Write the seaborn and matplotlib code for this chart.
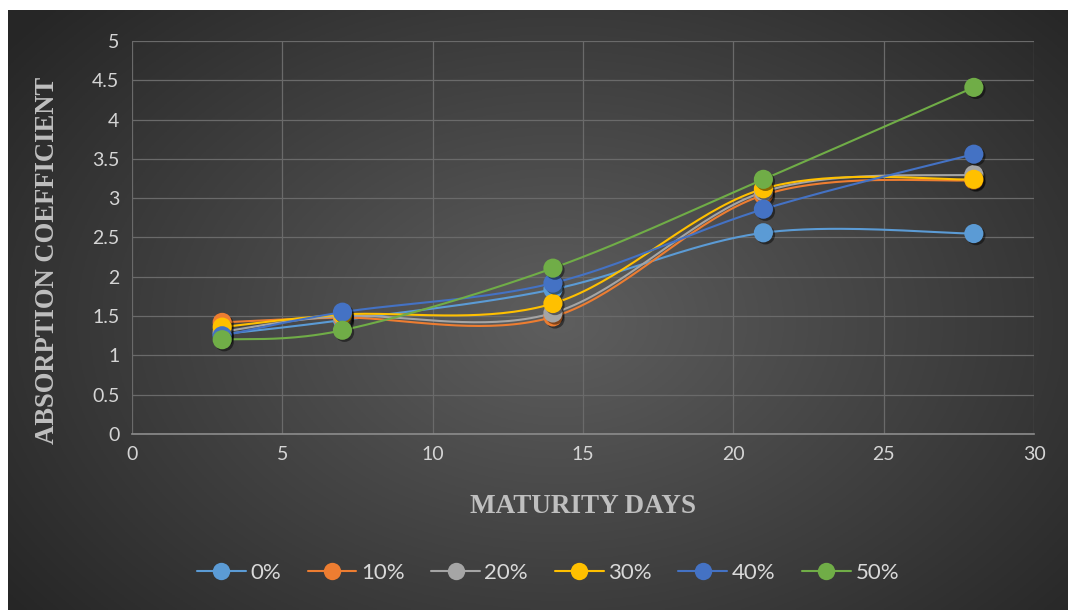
import numpy as np
import pandas as pd
import matplotlib
matplotlib.use("Agg")
import matplotlib.pyplot as plt
import matplotlib.patheffects as pe
from matplotlib.lines import Line2D
from matplotlib.ticker import FuncFormatter, MultipleLocator
import seaborn as sns

# data
days = [3, 7, 14, 21, 28]
series_names = ["0%", "10%", "20%", "30%", "40%", "50%"]
vals_0 = [1.27, 1.45, 1.84, 2.56, 2.55]
vals_10 = [1.42, 1.48, 1.49, 3.04, 3.23]
vals_20 = [1.30, 1.50, 1.54, 3.08, 3.30]
vals_30 = [1.36, 1.52, 1.66, 3.12, 3.24]
vals_40 = [1.25, 1.55, 1.92, 2.86, 3.56]
vals_50 = [1.20, 1.32, 2.11, 3.24, 4.41]
colors = ["#5B9BD5", "#ED7D31", "#A5A5A5", "#FFC000", "#4472C4", "#70AD47"]

all_vals = [vals_0, vals_10, vals_20, vals_30, vals_40, vals_50]


def smooth_curve(xs, ys, n=40):
    # Bezier smoothing similar to the spreadsheet "smoothed line" option
    pts = np.column_stack([xs, ys]).astype(float)
    P = np.vstack([pts[0], pts, pts[-1]])
    out = []
    t = np.linspace(0, 1, n)[:, None]
    for i in range(len(pts) - 1):
        p0, p1, p2, p3 = P[i], P[i + 1], P[i + 2], P[i + 3]
        b1 = p1 + (p2 - p0) / 6
        b2 = p2 - (p3 - p1) / 6
        seg = (1 - t) ** 3 * p1 + 3 * (1 - t) ** 2 * t * b1 + 3 * (1 - t) * t ** 2 * b2 + t ** 3 * p2
        out.append(seg if i == 0 else seg[1:])
    return np.vstack(out)


rows_curve = []
rows_pts = []
for name, v in zip(series_names, all_vals):
    c = smooth_curve(days, v)
    for k, (x, y) in enumerate(c):
        rows_curve.append({"series": name, "x": x, "y": y, "k": k})
    for x, y in zip(days, v):
        rows_pts.append({"series": name, "x": x, "y": y})
df_curve = pd.DataFrame(rows_curve)
df_pts = pd.DataFrame(rows_pts)

sns.set_theme(style="dark")
plt.rcParams['font.family'] = ['Lato', 'DejaVu Sans']

W, H = 1068, 610
fig = plt.figure(figsize=(W / 100, H / 100), dpi=100, facecolor="white")

# dark radial gradient background
bg = fig.add_axes([8 / W, 0, 1 - 8 / W, 1 - 10 / H])
gx, gy = np.meshgrid(np.linspace(0, 1, 400), np.linspace(0, 1, 240))
r = np.sqrt(((gx - 0.52) / 0.62) ** 2 + ((gy - 0.52) / 0.75) ** 2)
shade = np.clip(0.37 - 0.21 * r, 0.15, 0.37)
bg.imshow(np.dstack([shade, shade, shade]), aspect="auto", extent=[0, 1, 0, 1], origin="upper")
bg.axis("off")

ax = fig.add_axes([132 / W, 1 - 434 / H, (1034 - 132) / W, (434 - 41) / H])
ax.patch.set_alpha(0)

for i, name in enumerate(series_names):
    sub = df_curve[df_curve["series"] == name]
    sns.lineplot(data=sub, x="x", y="y", ax=ax, color=colors[i], lw=1.5,
                 sort=False, estimator=None, zorder=3 + i * 0.1)
for i, name in enumerate(series_names):
    sub = df_pts[df_pts["series"] == name]
    sc = sns.scatterplot(data=sub, x="x", y="y", ax=ax, color=colors[i], s=190,
                         edgecolor="none", zorder=4 + i * 0.1)
    sc.collections[-1].set_path_effects([
        pe.SimplePatchShadow(offset=(1.5, -1.5), shadow_rgbFace="black", alpha=0.45),
        pe.Normal()])

ax.set_xlim(0, 30)
ax.set_ylim(0, 5)
ax.xaxis.set_major_locator(MultipleLocator(5))
ax.yaxis.set_major_locator(MultipleLocator(0.5))
ax.yaxis.set_major_formatter(FuncFormatter(lambda v, p: f"{v:g}"))
ax.grid(True, color="#6a6a6a", lw=0.9)
ax.set_axisbelow(True)
for s in ["top", "right", "left"]:
    ax.spines[s].set_visible(False)
ax.spines["bottom"].set_color("#8c8c8c")
ax.spines["bottom"].set_linewidth(1.2)
ax.tick_params(colors="#d5d5d5", labelsize=14, length=0, pad=9)

ax.set_xlabel("MATURITY DAYS", fontsize=19.5, fontweight="bold", color="#bfbfbf",
              family="Liberation Serif", labelpad=22)
ax.set_ylabel("ABSORPTION COEFFICIENT", fontsize=19.2, fontweight="bold", color="#bfbfbf",
              family="Liberation Serif", va="center")
ax.yaxis.set_label_coords(-0.094, 0.443)

handles = [Line2D([0], [0], color=c, lw=1.5, marker="o", ms=12.5, markeredgewidth=0) for c in colors]
fig.legend(handles, series_names, loc="center", bbox_to_anchor=(0.513, 0.061), ncol=6,
           frameon=False, fontsize=16, labelcolor="#d9d9d9", handlelength=2.2,
           handletextpad=0.2, columnspacing=1.2)

fig.savefig("out.png", dpi=100, facecolor="white")
